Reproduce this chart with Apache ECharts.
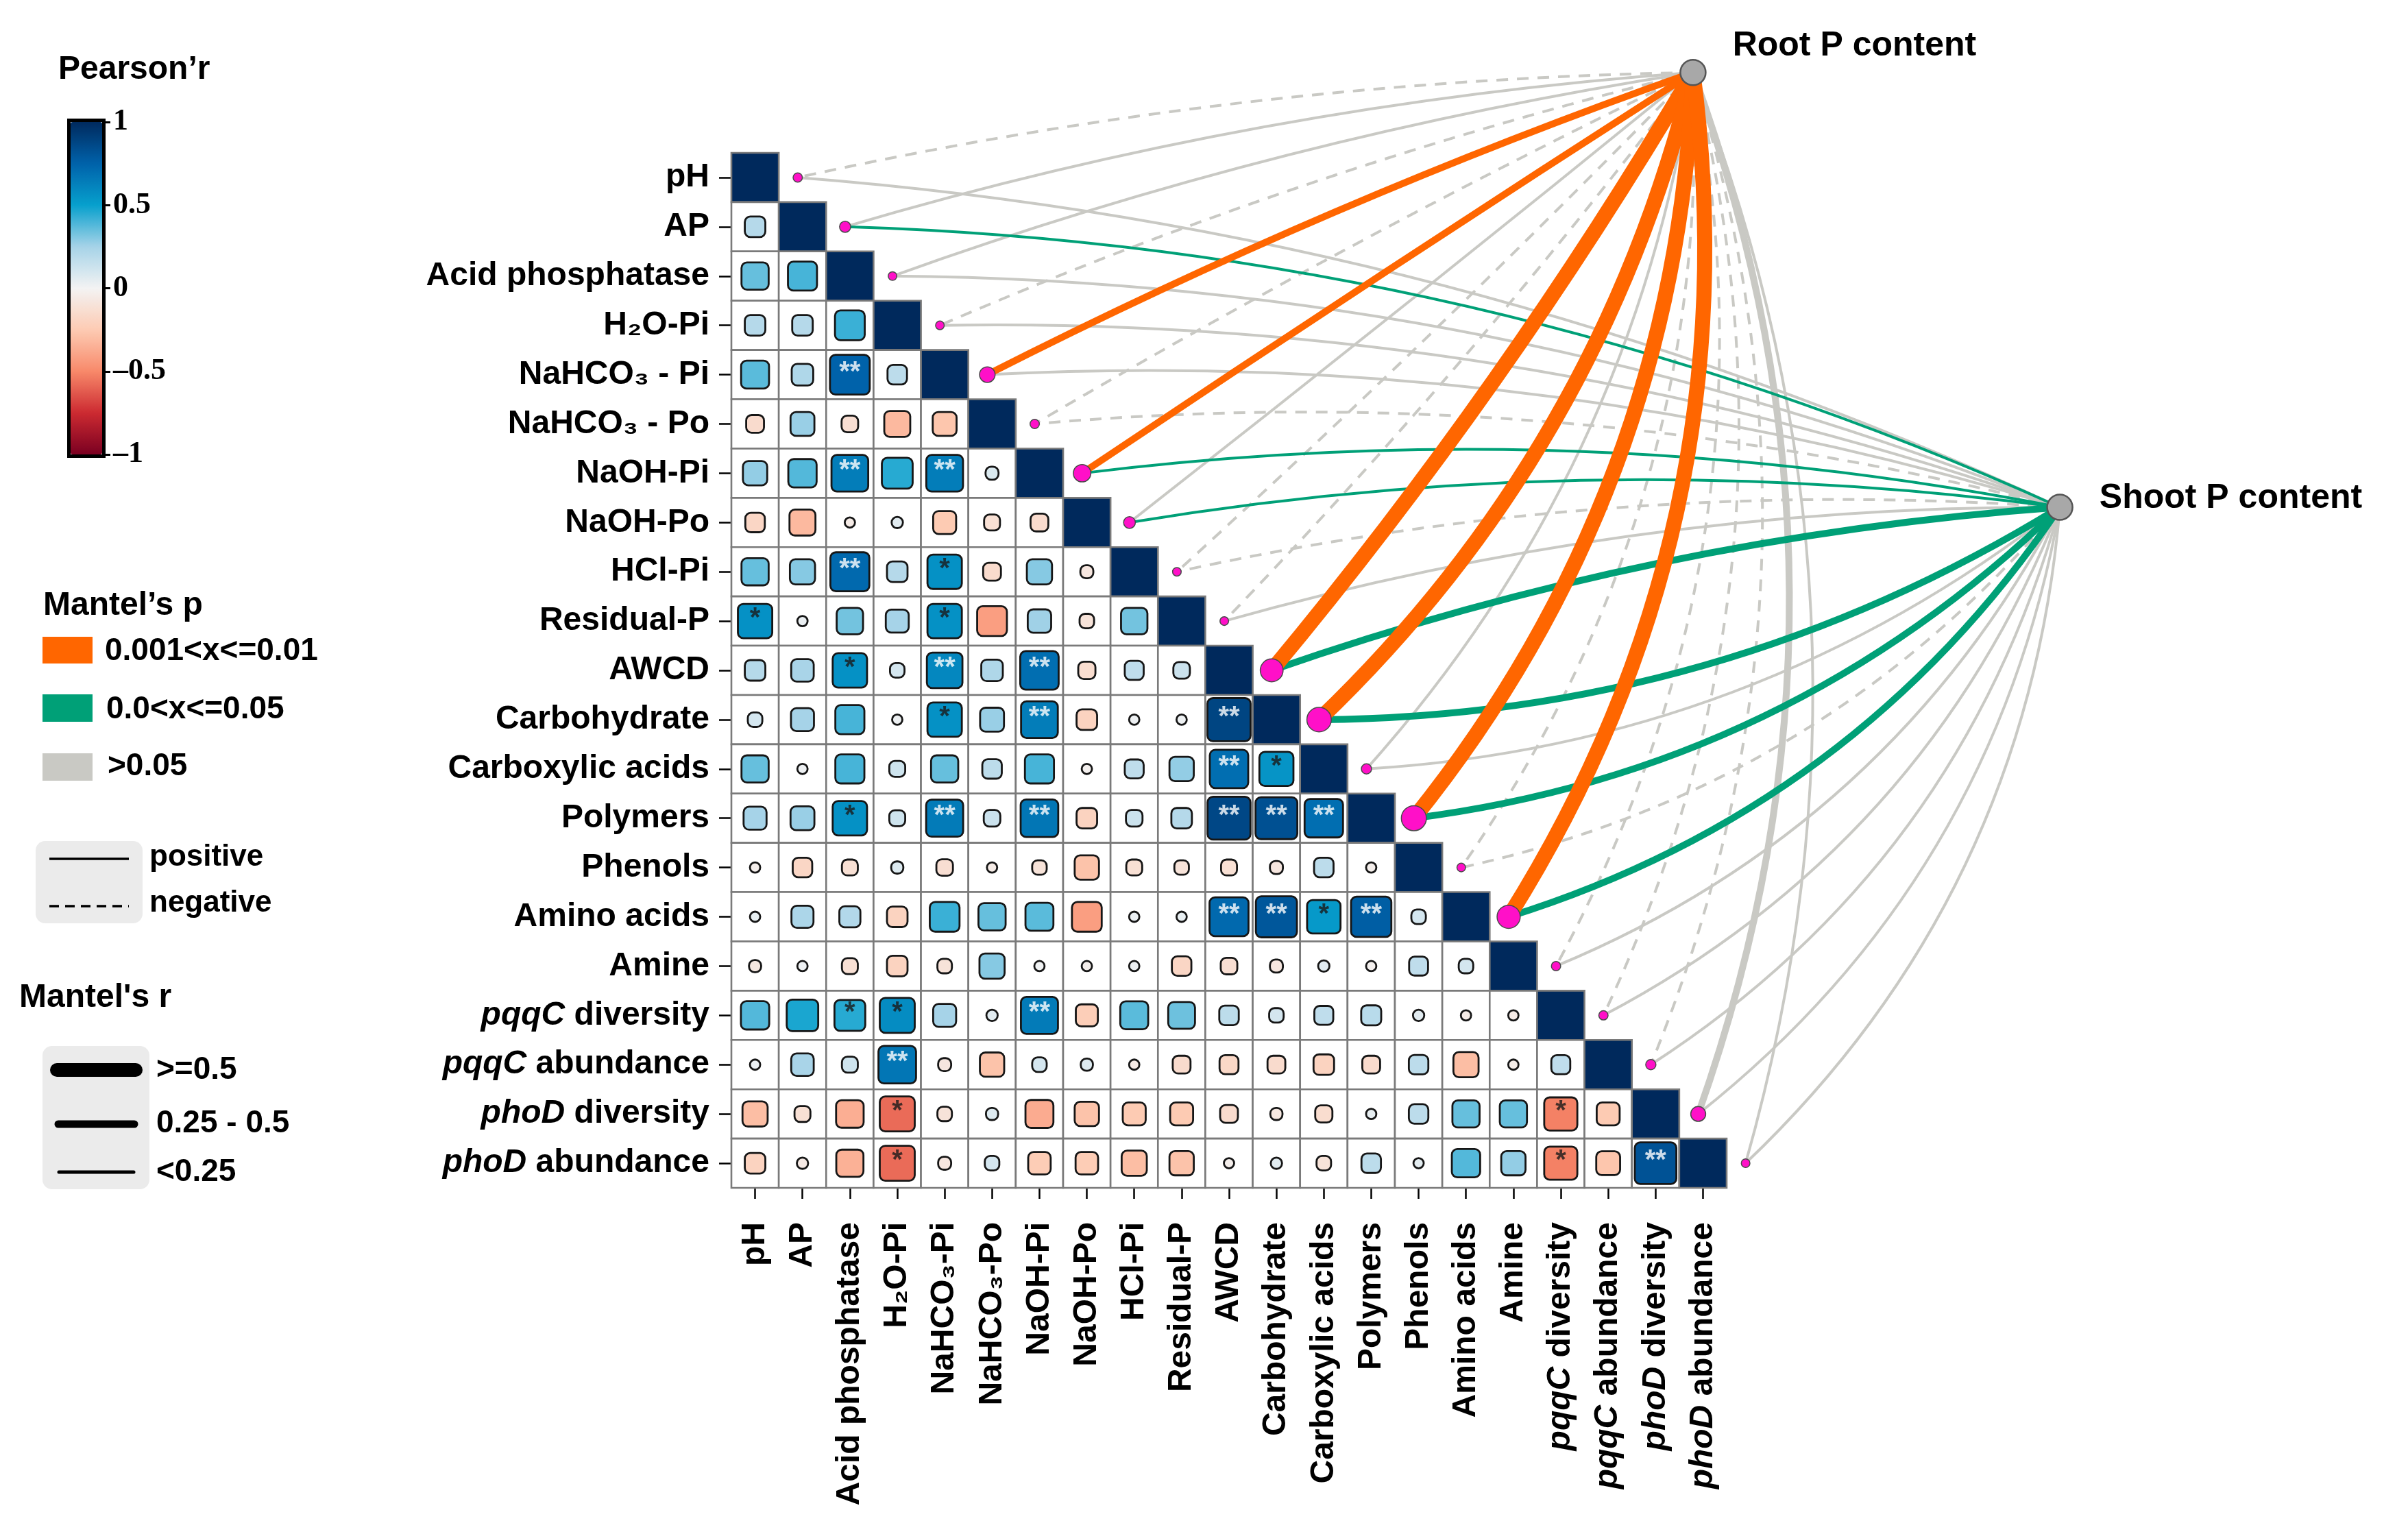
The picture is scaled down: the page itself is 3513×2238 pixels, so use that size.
<!DOCTYPE html>
<html><head><meta charset="utf-8">
<script src="https://cdn.jsdelivr.net/npm/echarts@6/dist/echarts.min.js"></script>
<style>html,body{margin:0;padding:0;background:#fff}#c{width:3513px;height:2238px}</style>
</head><body><div id="c"></div>
<script>
// ---------------- DATA ----------------
const variables = ['pH','AP','Acid phosphatase','H₂O-Pi','NaHCO₃-Pi','NaHCO₃-Po','NaOH-Pi','NaOH-Po','HCl-Pi','Residual-P',
  'AWCD','Carbohydrate','Carboxylic acids','Polymers','Phenols','Amino acids','Amine',
  'pqqC diversity','pqqC abundance','phoD diversity','phoD abundance'];

// Pearson r, lower triangle: row i holds columns 0..i-1
const corrLower = [
  [],
  [0.2],
  [0.35, 0.4],
  [0.2, 0.2, 0.42],
  [0.37, 0.22, 0.75, 0.18],
  [-0.15, 0.27, -0.13, -0.32, -0.27],
  [0.28, 0.38, 0.64, 0.45, 0.64, 0.08],
  [-0.18, -0.32, -0.05, 0.06, -0.25, -0.12, -0.15],
  [0.35, 0.3, 0.72, 0.2, 0.56, -0.15, 0.3, -0.08],
  [0.56, 0.03, 0.33, 0.25, 0.56, -0.42, 0.26, -0.1, 0.33],
  [0.2, 0.24, 0.56, 0.1, 0.6, 0.22, 0.7, -0.14, 0.17, 0.13],
  [0.1, 0.25, 0.4, 0.02, 0.56, 0.27, 0.64, -0.2, 0.02, 0.02, 0.88],
  [0.35, 0.02, 0.4, 0.12, 0.35, 0.18, 0.4, -0.02, 0.17, 0.28, 0.7, 0.55],
  [0.25, 0.27, 0.56, 0.12, 0.65, 0.13, 0.67, -0.2, 0.13, 0.2, 0.87, 0.83, 0.7],
  [-0.03, -0.18, -0.12, 0.07, -0.13, -0.05, -0.1, -0.28, -0.12, -0.1, -0.12, -0.08, 0.18, -0.03],
  [0.04, 0.23, 0.21, -0.2, 0.42, 0.35, 0.37, -0.42, 0.03, 0.04, 0.72, 0.8, 0.53, 0.77, 0.1],
  [-0.07, 0.02, -0.12, -0.2, -0.1, 0.3, 0.01, -0.03, 0.02, -0.18, -0.13, -0.08, 0.06, -0.02, 0.17, 0.1],
  [0.38, 0.47, 0.45, 0.58, 0.25, 0.06, 0.65, -0.23, 0.37, 0.34, 0.18, 0.1, 0.17, 0.19, 0.06, -0.05, -0.05],
  [0.03, 0.24, 0.12, 0.67, -0.08, -0.28, 0.1, 0.07, -0.05, -0.15, -0.17, -0.15, -0.2, -0.15, 0.18, -0.3, -0.04, 0.17],
  [-0.3, -0.12, -0.36, -0.58, -0.1, 0.07, -0.37, -0.28, -0.25, -0.25, -0.15, -0.07, -0.14, 0.04, 0.18, 0.35, 0.35, -0.52, -0.25],
  [-0.2, -0.06, -0.35, -0.58, -0.08, 0.1, -0.24, -0.24, -0.3, -0.28, -0.03, 0.06, -0.1, 0.18, 0.05, 0.38, 0.28, -0.52, -0.27, 0.82]
];

// significance marks [row, col, mark]
const significance = [
  [4,2,'**'],[6,2,'**'],[6,4,'**'],[8,2,'**'],[8,4,'*'],[9,0,'*'],[9,4,'*'],
  [10,2,'*'],[10,4,'**'],[10,6,'**'],[11,4,'*'],[11,6,'**'],[11,10,'**'],
  [12,10,'**'],[12,11,'*'],[13,2,'*'],[13,4,'**'],[13,6,'**'],[13,10,'**'],[13,11,'**'],[13,12,'**'],
  [15,10,'**'],[15,11,'**'],[15,12,'*'],[15,13,'**'],[17,2,'*'],[17,3,'*'],[17,6,'**'],
  [18,3,'**'],[19,3,'*'],[19,17,'*'],[20,3,'*'],[20,17,'*'],[20,19,'**']
];

const mantelTargets = ['Root P content', 'Shoot P content'];
const mantelRootR  = [-0.12, 0.12, 0.1, -0.1, 0.32, -0.12, 0.38, 0.1, -0.1, -0.08, 0.55, 0.6, 0.15, 0.62, -0.1, 0.56, -0.1, -0.12, -0.15, 0.3, 0.1];
const mantelRootP  = [0.4, 0.3, 0.35, 0.5, 0.006, 0.45, 0.004, 0.3, 0.5, 0.6, 0.002, 0.002, 0.2, 0.002, 0.6, 0.003, 0.6, 0.5, 0.4, 0.08, 0.3];
const mantelShootR = [0.1, 0.18, 0.1, 0.1, 0.12, -0.1, 0.2, 0.2, -0.1, 0.1, 0.35, 0.38, 0.1, 0.4, -0.1, 0.36, 0.12, 0.12, 0.1, 0.1, 0.1];
const mantelShootP = [0.3, 0.03, 0.3, 0.3, 0.2, 0.5, 0.02, 0.03, 0.5, 0.3, 0.02, 0.02, 0.4, 0.02, 0.6, 0.02, 0.2, 0.2, 0.3, 0.3, 0.4];

const pearsonTicks = { min: -1, max: 1, interval: 0.5 };

// ---------------- STYLE / LAYOUT ----------------
const FONT = "'Liberation Sans', Arial, Helvetica, sans-serif";
const SERIF = "'Liberation Serif', 'Times New Roman', serif";
const NAVY = '#00295c';
const ORANGE = '#ff6600', GREEN = '#00a077', GRAY = '#c9c9c4';
const PEARSON_COLORS = ['#7a0021','#cc2a31','#f8896a','#fdcbb3','#f3f3f3','#a6d3e8','#07a0cd','#0062aa','#002a5e'];
const GRID = { left: 1067, top: 223, width: 1452, height: 1510 };
const rootNode = [19.79, -2.13];   // positions in cell units of the heatmap grid
const shootNode = [27.53, 6.69];
const DOT_DX = 0.9;
const rootCurve  = [-0.05,-0.054,-0.048,-0.042,-0.033,-0.02,-0.005,0.005,0.015,0.03,0.04,0.145,0.15,0.165,0.17,0.18,0.18,0.18,0.18,0.18,0.168];
const shootCurve = [-0.09,-0.1,-0.095,-0.09,-0.088,-0.085,-0.08,-0.075,-0.072,-0.07,-0.066,0.14,0.155,0.167,0.17,0.175,0.18,0.185,0.19,0.19,0.19];

// ---------------- BUILD ----------------
const n = variables.length;
const cellData = [];
for (let i = 0; i < n; i++) for (let j = 0; j <= i; j++) cellData.push([j, i]);

const squareData = [];
corrLower.forEach((row, i) => row.forEach((r, j) => squareData.push([j, i, r])));

const starData = significance.map(([i, j, s]) => ({
  name: s, value: [j, i], label: { color: s === '**' ? '#ffffff' : '#1a1a1a' }
}));

const pColor = p => p <= 0.01 ? ORANGE : (p <= 0.05 ? GREEN : GRAY);
const rank = p => p <= 0.01 ? 2 : (p <= 0.05 ? 1 : 0);
const rWidth = r => Math.abs(r) >= 0.5 ? 22 : (Math.abs(r) >= 0.25 ? 10 : 4);

const lineItems = [];
variables.forEach((v, i) => {
  [[rootNode, mantelRootR[i], mantelRootP[i], rootCurve[i]],
   [shootNode, mantelShootR[i], mantelShootP[i], shootCurve[i]]].forEach(([node, r, p, cv]) => {
    lineItems.push({
      coords: [node, [i + DOT_DX, i]], _rank: rank(p),
      lineStyle: { color: pColor(p), width: rWidth(r), type: r < 0 ? [17, 13] : 'solid', curveness: cv, opacity: 1 }
    });
  });
});
lineItems.sort((a, b) => a._rank - b._rank);

const dotData = variables.map((v, i) => ({
  value: [i + DOT_DX, i],
  symbolSize: 8 + 46 * Math.max(Math.abs(mantelRootR[i]), Math.abs(mantelShootR[i]))
}));

function fmtLabel(name, isY) {
  let s = name;
  if (isY) s = s.replace('NaHCO₃-', 'NaHCO₃ - ');
  const m = s.match(/^(pqqC|phoD) (.*)$/);
  if (m) return '{i|' + m[1] + '} ' + m[2];
  return s;
}
const richItalic = { i: { fontStyle: 'italic', fontWeight: 'bold', fontSize: 48, fontFamily: FONT, color: '#000' } };

function T(x, y, text, size, extra) {
  return { type: 'text', x, y, z: 10, style: Object.assign({
    text, font: `bold ${size}px ${FONT}`, fill: '#000', textFill: '#000',
    verticalAlign: 'middle', textVerticalAlign: 'middle' }, extra || {}) };
}
const R = (x, y, w, h, fill, r) => ({ type: 'rect', z: 9, shape: { x, y, width: w, height: h, r: r || 0 }, style: { fill } });
const L = (x1, y1, x2, y2, w, dash, cap) => ({ type: 'line', z: 10, shape: { x1, y1, x2, y2 },
  style: { stroke: '#000', lineWidth: w, lineDash: dash || null, lineCap: cap || 'butt' } });

const graphics = [
  T(85, 102, 'Pearson’r', 48),
  { type: 'rect', z: 20, shape: { x: 100.5, y: 175.5, width: 51, height: 490 }, style: { fill: 'none', stroke: '#000', lineWidth: 5 } },
  T(63, 884, 'Mantel’s p', 48),
  R(62, 929, 73, 39, ORANGE), R(62, 1013, 73, 40, GREEN), R(62, 1099, 73, 40, GRAY),
  T(153, 950, '0.001<x<=0.01', 46), T(155, 1035, '0.0<x<=0.05', 46), T(157, 1118, '>0.05', 46),
  R(52, 1227, 156, 120, '#ebebeb', 14),
  L(72, 1253, 188, 1253, 3.5), L(72, 1322, 188, 1322, 3.5, [14, 9]),
  T(218, 1251, 'positive', 44), T(218, 1318, 'negative', 44),
  T(28, 1456, "Mantel's r", 48),
  R(62, 1526, 156, 209, '#ebebeb', 14),
  L(83, 1561, 198, 1561, 20, null, 'round'), L(85, 1640, 196, 1640, 11, null, 'round'), L(86, 1710, 195, 1710, 5, null, 'round'),
  T(228, 1561, '>=0.5', 46), T(228, 1639, '0.25 - 0.5', 46), T(228, 1710, '<0.25', 46)
];

const hiddenAxis = { show: false, axisLine: { show: false, onZero: false }, axisTick: { show: false }, axisLabel: { show: false }, splitLine: { show: false } };

const option = {
  animation: false,
  backgroundColor: '#ffffff',
  grid: [
    Object.assign({ containLabel: false }, GRID),
    { left: 103, top: 178, width: 46, height: 485 }
  ],
  xAxis: [
    { type: 'category', gridIndex: 0, data: variables, position: 'bottom',
      axisLine: { show: false, onZero: false }, splitLine: { show: false },
      axisTick: { show: true, alignWithLabel: true, length: 16, lineStyle: { color: '#000', width: 2.5 } },
      axisLabel: { interval: 0, rotate: 90, margin: 50, color: '#000', fontSize: 48, fontWeight: 'bold', fontFamily: FONT,
        formatter: v => fmtLabel(v, false), rich: richItalic } },
    Object.assign({ type: 'value', gridIndex: 0, min: -0.5, max: 20.5 }, hiddenAxis),
    Object.assign({ type: 'value', gridIndex: 1, min: 0, max: 1 }, hiddenAxis)
  ],
  yAxis: [
    { type: 'category', gridIndex: 0, data: variables, inverse: true, position: 'left',
      axisLine: { show: false, onZero: false }, splitLine: { show: false },
      axisTick: { show: true, alignWithLabel: true, length: 18, lineStyle: { color: '#000', width: 2.5 } },
      axisLabel: { interval: 0, margin: 32, color: '#000', fontSize: 48, fontWeight: 'bold', fontFamily: FONT,
        formatter: v => fmtLabel(v, true), rich: richItalic } },
    Object.assign({ type: 'value', gridIndex: 0, min: -0.5, max: 20.5, inverse: true }, hiddenAxis),
    { type: 'value', gridIndex: 1, position: 'right', min: pearsonTicks.min, max: pearsonTicks.max, interval: pearsonTicks.interval,
      axisLine: { show: false, onZero: false }, splitLine: { show: false },
      axisTick: { show: true, inside: false, length: 12, lineStyle: { color: '#000', width: 3 } },
      axisLabel: { margin: 16, color: '#000', fontSize: 44, fontWeight: 'bold', fontFamily: SERIF,
        formatter: v => (v < 0 ? '–' : '') + Math.abs(v) } }
  ],
  visualMap: {
    type: 'continuous', min: -1, max: 1, seriesIndex: 1, dimension: 2,
    inRange: { color: PEARSON_COLORS }, left: 103, top: 178, itemWidth: 46, itemHeight: 485,
    padding: 0, calculable: false, orient: 'vertical', text: null, hoverLink: false
  },
  graphic: graphics,
  series: [
    { type: 'custom', name: 'cells', xAxisIndex: 0, yAxisIndex: 0, silent: true, z: 1, data: cellData,
      renderItem: (params, api) => {
        const c = api.coord([api.value(0), api.value(1)]);
        const s = api.size([1, 1]);
        const diag = api.value(0) === api.value(1);
        return { type: 'rect', shape: { x: c[0] - s[0] / 2, y: c[1] - s[1] / 2, width: s[0], height: s[1] },
          style: { fill: diag ? NAVY : '#ffffff', stroke: '#7a7a7a', lineWidth: 2.6 } };
      } },
    { type: 'custom', name: 'pearson', xAxisIndex: 0, yAxisIndex: 0, silent: true, z: 2, data: squareData,
      dimensions: ['x', 'y', 'r'],
      renderItem: (params, api) => {
        const c = api.coord([api.value(0), api.value(1)]);
        const r = api.value(2);
        const side = Math.max(15, Math.min(65, 67 * Math.sqrt(Math.abs(r))));
        return { type: 'rect', shape: { x: c[0] - side / 2, y: c[1] - side / 2, width: side, height: side, r: Math.min(8, side / 2) },
          style: { fill: api.visual('color'), stroke: '#161616', lineWidth: 2.8 } };
      } },
    { type: 'scatter', name: 'sig', xAxisIndex: 0, yAxisIndex: 0, silent: true, z: 3, symbolSize: 2,
      itemStyle: { color: 'rgba(0,0,0,0)' }, data: starData,
      label: { show: true, position: 'inside', formatter: '{b}', fontSize: 40, fontWeight: 'bold', fontFamily: FONT, offset: [0, -3] } },
    { type: 'lines', name: 'mantel', coordinateSystem: 'cartesian2d', xAxisIndex: 1, yAxisIndex: 1, clip: false, silent: true, z: 4,
      polyline: false, data: lineItems, lineStyle: { opacity: 1 } },
    { type: 'scatter', name: 'dots', xAxisIndex: 1, yAxisIndex: 1, clip: false, silent: true, z: 5, data: dotData,
      itemStyle: { color: '#ff10c8', borderColor: '#4a4a4a', borderWidth: 1.5, opacity: 1 } },
    { type: 'scatter', name: 'nodes', xAxisIndex: 1, yAxisIndex: 1, clip: false, silent: true, z: 6, symbolSize: 37,
      itemStyle: { color: '#a8a8a8', borderColor: '#555', borderWidth: 2.5, opacity: 1 },
      data: [
        { name: mantelTargets[0], value: rootNode, label: { offset: [0, -39] } },
        { name: mantelTargets[1], value: shootNode, label: { offset: [0, -13] } }
      ],
      label: { show: true, position: 'right', distance: 38, formatter: '{b}', color: '#000', fontSize: 50, fontWeight: 'bold', fontFamily: FONT } }
  ]
};

const chart = echarts.init(document.getElementById('c'), null, { renderer: 'canvas', width: 3513, height: 2238 });
chart.setOption(option);
</script></body></html>
